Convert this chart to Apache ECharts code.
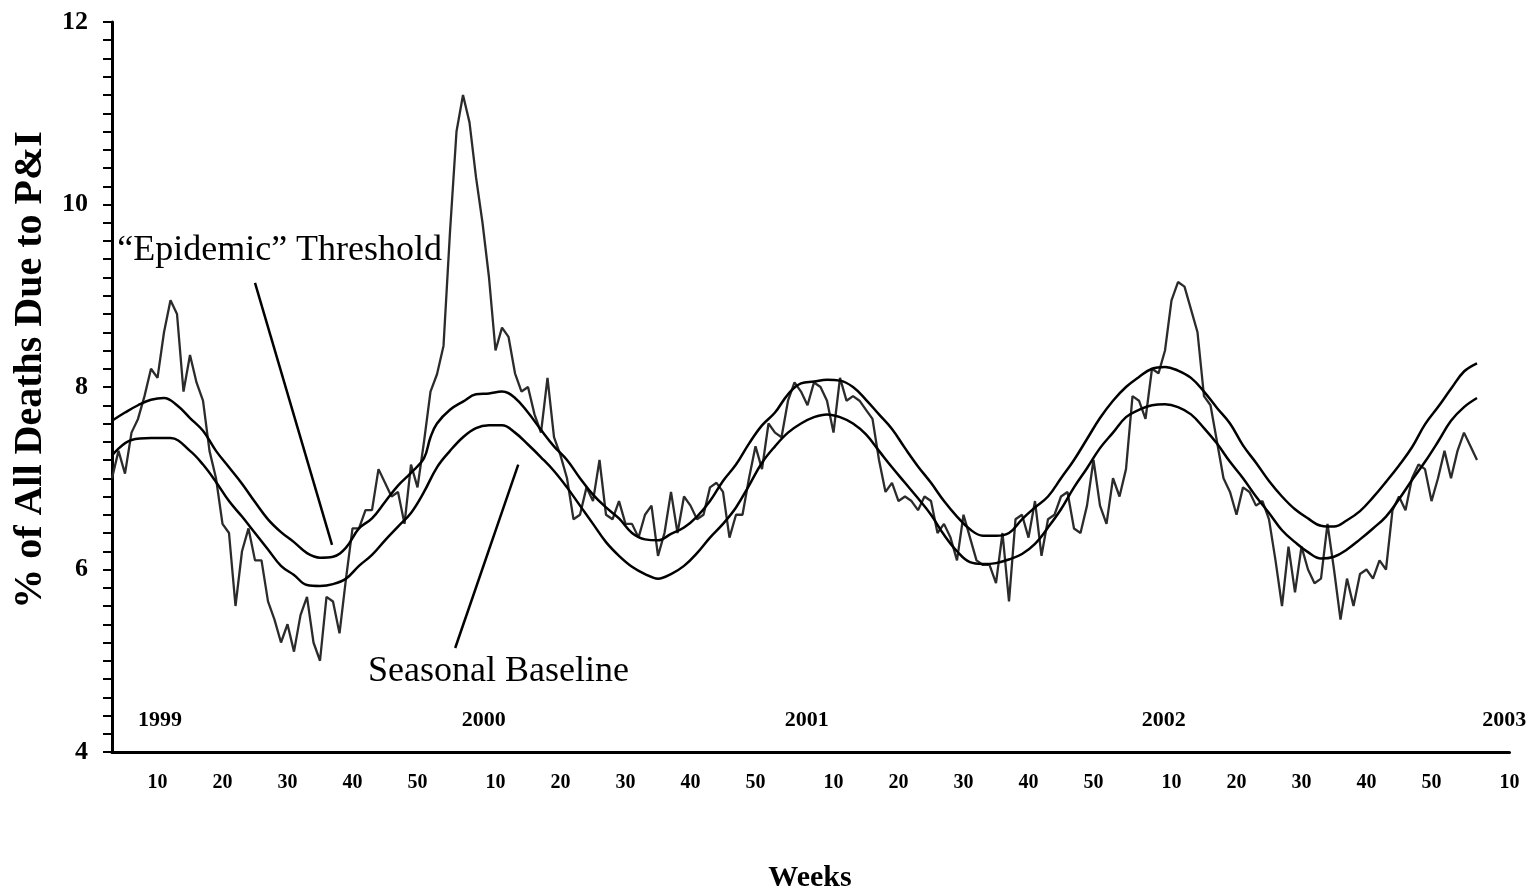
<!DOCTYPE html>
<html>
<head>
<meta charset="utf-8">
<script src="https://cdn.jsdelivr.net/npm/echarts@6/dist/echarts.min.js"></script>
<style>
html,body{margin:0;padding:0;background:#fff;}
#chart{width:1532px;height:896px;}
</style>
</head>
<body>
<div id="chart"></div>
<script>
// ---- data (week index: 1 = 1999 week 1, 53 = 2000 week 1, ...) ----
const obsStartWeek = 3;
const observed = [
7.0,7.3,7.05,7.5,7.65,7.9,8.2,8.1,8.6,8.95,
8.8,7.95,8.35,8.05,7.85,7.3,7.0,6.5,6.4,5.6,
6.2,6.45,6.1,6.1,5.65,5.45,5.2,5.4,5.1,5.5,
5.7,5.2,5.0,5.7,5.65,5.3,5.9,6.45,6.45,6.65,
6.65,7.1,6.95,6.8,6.85,6.5,7.15,6.9,7.4,7.95,
8.14,8.45,9.7,10.8,11.2,10.9,10.3,9.8,9.2,8.4,
8.65,8.55,8.15,7.95,8.0,7.7,7.5,8.1,7.45,7.25,
7.0,6.55,6.6,6.9,6.75,7.2,6.6,6.55,6.75,6.5,
6.5,6.35,6.6,6.7,6.15,6.4,6.85,6.4,6.8,6.7,
6.55,6.6,6.9,6.95,6.85,6.35,6.6,6.6,7.0,7.35,
7.1,7.6,7.5,7.45,7.85,8.05,7.95,7.8,8.05,8.0,
7.85,7.5,8.1,7.85,7.9,7.85,7.75,7.65,7.2,6.85,
6.95,6.75,6.8,6.75,6.65,6.8,6.75,6.4,6.5,6.35,
6.1,6.6,6.35,6.1,6.05,6.05,5.85,6.4,5.65,6.55,
6.6,6.35,6.75,6.15,6.55,6.6,6.8,6.85,6.45,6.4,
6.7,7.2,6.7,6.5,7.0,6.8,7.1,7.9,7.85,7.65,
8.2,8.15,8.4,8.95,9.15,9.1,8.85,8.6,7.9,7.8,
7.4,7.0,6.85,6.6,6.9,6.85,6.7,6.75,6.55,6.1,
5.6,6.25,5.75,6.25,6.0,5.85,5.9,6.5,6.0,5.45,
5.9,5.6,5.95,6.0,5.9,6.1,6.0,6.65,6.8,6.65,
7.0,7.15,7.1,6.75,7.0,7.3,7.0,7.3,7.5,7.35,
7.2
];

const baseWeeks = [3,6,9,12,15,17,19,21,23,25,27,29,31,33,35,37,39,41,43,45,47,49,51,53,55,57,59,61,63,65,67,69,71,73,75,77,79,81,83,85,87,89,91,93,95,97,99,101,103,105,107,109,111,113,115,117,119,121,123,125,127,129,131,133,135,137,139,141,143,145,147,149,151,153,155,157,159,161,163,165,167,169,171,173,175,177,179,181,183,185,187,189,191,193,195,197,199,201,203,205,207,209,211,213];
const baseline = [7.25,7.42,7.44,7.44,7.3,7.15,6.96,6.75,6.58,6.4,
6.22,6.04,5.94,5.83,5.82,5.84,5.9,6.04,6.16,6.32,
6.47,6.62,6.85,7.12,7.3,7.45,7.55,7.58,7.58,7.5,
7.37,7.23,7.08,6.9,6.7,6.5,6.3,6.15,6.03,5.95,
5.9,5.95,6.04,6.18,6.35,6.5,6.68,6.92,7.17,7.35,
7.5,7.6,7.67,7.7,7.67,7.6,7.48,7.3,7.12,6.95,
6.78,6.6,6.38,6.2,6.08,6.06,6.07,6.11,6.17,6.28,
6.46,6.66,6.9,7.11,7.33,7.5,7.67,7.75,7.8,7.81,
7.78,7.7,7.55,7.38,7.18,7.0,6.8,6.62,6.43,6.3,
6.19,6.12,6.14,6.22,6.33,6.45,6.58,6.77,6.98,7.18,
7.4,7.63,7.78,7.88];

const threshWeeks = [3,5,7,9,11,13,15,17,19,21,23,25,27,29,31,33,35,37,39,41,43,45,47,49,51,52,53,55,57,59,61,63,65,67,69,71,73,75,77,79,81,83,85,87,89,91,93,95,97,99,101,103,105,107,109,111,113,115,117,119,121,123,125,127,129,131,133,135,137,139,141,143,145,147,149,151,153,155,157,159,161,163,165,167,169,171,173,175,177,179,181,183,185,187,189,191,193,195,197,199,201,203,205,207,209,211,213];
const threshold = [7.63,7.72,7.8,7.86,7.88,7.8,7.66,7.52,7.3,7.12,
6.94,6.74,6.55,6.41,6.3,6.18,6.13,6.14,6.24,6.45,
6.56,6.74,6.92,7.06,7.22,7.45,7.6,7.75,7.84,7.92,
7.93,7.95,7.88,7.72,7.53,7.35,7.2,7.0,6.82,6.68,
6.56,6.4,6.33,6.32,6.39,6.46,6.58,6.75,6.97,7.15,
7.38,7.58,7.72,7.92,8.04,8.06,8.08,8.07,8.0,7.86,
7.7,7.54,7.33,7.13,6.95,6.75,6.58,6.44,6.37,6.37,
6.4,6.55,6.68,6.8,7.0,7.2,7.43,7.66,7.85,8.0,
8.11,8.2,8.22,8.18,8.1,7.95,7.77,7.6,7.36,7.17,
6.97,6.8,6.66,6.56,6.48,6.47,6.54,6.64,6.79,6.96,
7.14,7.34,7.59,7.78,7.98,8.17,8.26];

const yearLabels = ['1999','2000','2001','2002','2003'];
const yearLabelWeeks = [10.4, 60.2, 109.9, 164.8, 217.2];
const yearLabelLevel = 4.35;

const noteTexts = ['\u201CEpidemic\u201D Threshold', 'Seasonal Baseline'];
const noteWeeks = [3.8, 42.4];
const noteLevels = [9.5, 4.88];

const epidemicLeader = [[25.0, 9.14], [36.85, 6.27]];
const baselineLeader = [[55.8, 5.14], [65.5, 7.15]];

const weeksPerYear = 52;
const tickEvery = 10;

// ---- build ----
const serif = '"Liberation Serif", "DejaVu Serif", serif';
const obsData = observed.map((v, i) => [obsStartWeek + i, v]);
const baseData = baseWeeks.map((w, i) => [w, baseline[i]]);
const threshData = threshWeeks.map((w, i) => [w, threshold[i]]);
const yearData = yearLabels.map((s, i) => ({ value: [yearLabelWeeks[i], yearLabelLevel], name: s }));
const noteData = noteTexts.map((s, i) => ({ value: [noteWeeks[i], noteLevels[i]], name: s }));

function weekOfYear(v) { return ((Math.round(v) - 1) % weeksPerYear) + 1; }

const chart = echarts.init(document.getElementById('chart'), null, { renderer: 'canvas' });
chart.setOption({
  animation: false,
  backgroundColor: '#ffffff',
  grid: { left: 112, right: 22.5, top: 22, bottom: 144, containLabel: false },
  xAxis: {
    type: 'value', min: 3, max: 218, interval: 1,
    axisLine: { show: true, onZero: false, lineStyle: { color: '#000', width: 3 } },
    axisTick: { show: false },
    splitLine: { show: false },
    axisLabel: {
      margin: 21, color: '#000', fontFamily: serif, fontWeight: 'bold', fontSize: 20,
      formatter: function (v) { const w = weekOfYear(v); return (w % tickEvery === 0) ? String(w) : ''; }
    }
  },
  yAxis: {
    type: 'value', min: 4, max: 12, interval: 2,
    axisLine: { show: true, lineStyle: { color: '#000', width: 3 } },
    axisTick: { show: true, length: 9, lineStyle: { color: '#000', width: 2 } },
    minorTick: { show: true, splitNumber: 10, length: 9, lineStyle: { color: '#000', width: 2 } },
    splitLine: { show: false },
    axisLabel: { margin: 24, color: '#000', fontFamily: serif, fontWeight: 'bold', fontSize: 26 }
  },
  graphic: [
    { type: 'text', x: 31, y: 370, rotation: Math.PI / 2,
      style: { text: '% of All Deaths Due to P&I', fill: '#000', align: 'center', verticalAlign: 'middle',
               font: 'bold 40px "Liberation Serif", serif' } },
    { type: 'text', x: 810, y: 878,
      style: { text: 'Weeks', fill: '#000', align: 'center', verticalAlign: 'middle',
               font: 'bold 30px "Liberation Serif", serif' } }
  ],
  series: [
    { name: 'Observed', type: 'line', data: obsData, symbol: 'none', smooth: false,
      lineStyle: { color: '#2b2b2b', width: 2.3 }, z: 3 },
    { name: 'Seasonal Baseline', type: 'line', data: baseData, symbol: 'none', smooth: 0.4,
      lineStyle: { color: '#000', width: 2.5 }, z: 4 },
    { name: 'Epidemic Threshold', type: 'line', data: threshData, symbol: 'none', smooth: 0.4,
      lineStyle: { color: '#000', width: 2.5 }, z: 4 },
    { name: 'leader1', type: 'line', data: epidemicLeader, symbol: 'none',
      lineStyle: { color: '#000', width: 2.5 }, z: 5 },
    { name: 'leader2', type: 'line', data: baselineLeader, symbol: 'none',
      lineStyle: { color: '#000', width: 2.5 }, z: 5 },
    { name: 'years', type: 'scatter', data: yearData, symbolSize: 0, clip: false,
      itemStyle: { opacity: 1, color: '#000' },
      label: { show: true, position: 'inside', formatter: '{b}', color: '#000', opacity: 1,
               fontFamily: serif, fontWeight: 'bold', fontSize: 22, align: 'center', verticalAlign: 'middle' }, z: 6 },
    { name: 'notes', type: 'scatter', data: noteData, symbolSize: 0, clip: false,
      itemStyle: { opacity: 1, color: '#000' },
      label: { show: true, position: 'inside', formatter: '{b}', color: '#000', opacity: 1,
               fontFamily: serif, fontSize: 36, align: 'left', verticalAlign: 'middle' }, z: 6 }
  ]
});
</script>
</body>
</html>
